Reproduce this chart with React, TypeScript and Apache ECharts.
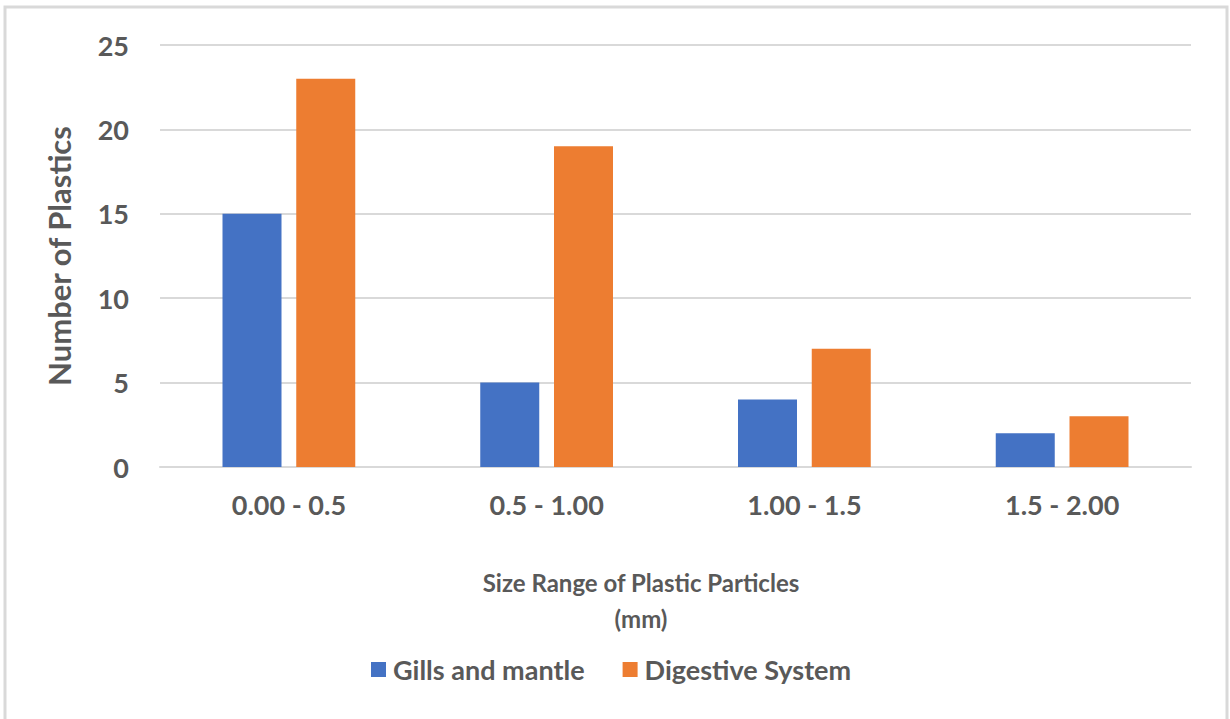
import React, { useEffect, useRef } from "react";
import * as echarts from "echarts";

const categories = ["0.00 - 0.5", "0.5 - 1.00", "1.00 - 1.5", "1.5 - 2.00"];
const gillsValues = [15, 5, 4, 2];
const digestiveValues = [23, 19, 7, 3];
const seriesNames = ["Gills and mantle", "Digestive System"];
const yAxisTitle = "Number of Plastics";
const xAxisTitleLines = ["Size Range of Plastic Particles", "(mm)"];

const FONT = "Lato, 'Open Sans', sans-serif";
const TEXT = "#595959";

export default function App() {
  const ref = useRef<HTMLDivElement>(null);
  useEffect(() => {
    document.body.style.margin = "0";
    const chart = echarts.init(ref.current!, null, { renderer: "svg" });
    chart.setOption({
      animation: false,
      backgroundColor: "#ffffff",
      textStyle: { fontFamily: FONT },
      grid: { left: 160, right: 39, top: 45, bottom: 252, containLabel: false },
      legend: {
        left: 366,
        top: 651,
        itemWidth: 15,
        itemHeight: 15,
        itemGap: 38,
        icon: "rect",
        textStyle: { fontFamily: FONT, fontWeight: "bold", fontSize: 27, color: TEXT, padding: [0, 0, 0, 2] },
        data: seriesNames,
      },
      xAxis: {
        type: "category",
        data: categories,
        axisLine: { show: true, lineStyle: { color: "#d9d9d9", width: 2 } },
        axisTick: { show: false },
        axisLabel: { fontFamily: FONT, fontWeight: "bold", fontSize: 27, color: TEXT, margin: 24 },
      },
      yAxis: {
        type: "value",
        min: 0,
        max: 25,
        interval: 5,
        name: yAxisTitle,
        nameLocation: "middle",
        nameRotate: 90,
        nameGap: 86,
        nameTextStyle: { fontFamily: FONT, fontWeight: "bold", fontSize: 31, color: TEXT },
        axisLine: { show: false },
        axisTick: { show: false },
        axisLabel: { fontFamily: FONT, fontWeight: "bold", fontSize: 27, color: TEXT, margin: 31 },
        splitLine: { lineStyle: { color: "#d9d9d9", width: 2 } },
      },
      series: [
        {
          name: seriesNames[0],
          type: "bar",
          data: gillsValues,
          barWidth: 59,
          barGap: "25%",
          itemStyle: { color: "#4472C4" },
        },
        {
          name: seriesNames[1],
          type: "bar",
          data: digestiveValues,
          barWidth: 59,
          barGap: "25%",
          itemStyle: { color: "#ED7D31" },
        },
      ],
      graphic: [
        {
          type: "rect",
          shape: { x: 5, y: 7, width: 1222, height: 730 },
          style: { fill: "none", stroke: "#d9d9d9", lineWidth: 3 },
          silent: true,
        },
        {
          type: "text",
          x: 641,
          y: 582,
          style: {
            text: xAxisTitleLines[0],
            fontFamily: FONT,
            fontWeight: "bold",
            fontSize: 24,
            fill: TEXT,
            textAlign: "center",
            textVerticalAlign: "middle",
          },
        },
        {
          type: "text",
          x: 641,
          y: 618,
          style: {
            text: xAxisTitleLines[1],
            fontFamily: FONT,
            fontWeight: "bold",
            fontSize: 24,
            fill: TEXT,
            textAlign: "center",
            textVerticalAlign: "middle",
          },
        },
      ],
    });
    return () => chart.dispose();
  }, []);
  return <div ref={ref} style={{ width: 1230, height: 719 }} />;
}
